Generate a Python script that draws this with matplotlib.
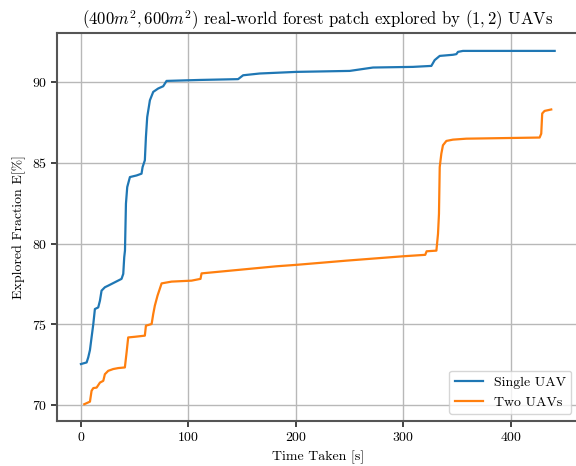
import matplotlib
matplotlib.use("Agg")
import matplotlib.pyplot as plt

plt.rcParams['font.family'] = 'serif'
plt.rcParams['font.serif'] = ['cmr10', 'DejaVu Serif']
plt.rcParams['mathtext.fontset'] = 'cm'
plt.rcParams['axes.formatter.use_mathtext'] = True
plt.rcParams['axes.unicode_minus'] = False

single_t = [0, 5.3, 6.8, 8.4, 9.9, 11.5, 13.0, 16.1, 17.7, 19.2, 22.3, 25.4, 31.6, 37.8,
            39.4, 40.3, 41.0, 41.9, 43.1, 45.6, 51.8, 56.4, 57.4, 59.5, 60.5, 61.7, 64.2,
            67.3, 71.9, 76.6, 79.7, 110.7, 146.3, 151.0, 166.5, 200.7, 250.2, 259.5,
            271.9, 309.1, 326.2, 329.3, 334.0, 346.3, 349.5, 351.0, 355.6, 441.0]
single_y = [72.53, 72.63, 72.94, 73.4, 74.18, 75.0, 75.94, 76.04, 76.46, 77.08, 77.29, 77.39,
            77.6, 77.81, 78.12, 79.15, 79.57, 82.47, 83.5, 84.12, 84.22, 84.33, 84.74, 85.16,
            86.6, 87.84, 88.88, 89.4, 89.61, 89.75, 90.08, 90.14, 90.19, 90.43, 90.54, 90.64,
            90.7, 90.79, 90.91, 90.95, 91.01, 91.37, 91.63, 91.7, 91.74, 91.88, 91.94, 91.94]

two_t = [3.1, 8.4, 9.9, 11.5, 14.6, 17.7, 20.8, 22.3, 25.4, 30.0, 34.7, 40.9, 42.5, 44.0,
         50.2, 59.5, 60.5, 65.8, 67.3, 68.8, 71.3, 75.1, 84.4, 103.0, 111.3, 112.3, 182.0,
         200.7, 247.2, 299.8, 320.5, 321.8, 330.9, 332.4, 333.3, 334.0, 335.5, 337.0, 340.2,
         346.3, 358.8, 427.0, 428.5, 429.4, 431.6, 437.8]
two_y = [70.04, 70.2, 70.87, 71.04, 71.07, 71.38, 71.49, 71.9, 72.11, 72.22, 72.28, 72.32,
         73.25, 74.18, 74.22, 74.29, 74.91, 75.01, 75.63, 76.15, 76.77, 77.53, 77.64, 77.7,
         77.81, 78.15, 78.59, 78.68, 78.94, 79.21, 79.3, 79.52, 79.56, 80.6, 81.84, 84.74,
         85.57, 86.09, 86.36, 86.44, 86.5, 86.57, 86.81, 88.06, 88.22, 88.31]

labels = ['Single UAV', 'Two UAVs']
title = r'$(400m^2, 600m^2)$ real-world forest patch explored by $(1, 2)$ UAVs'

fig = plt.figure(figsize=(5.76, 4.66), dpi=100)
ax = fig.add_axes([57.3 / 576, 45 / 466, 521 / 576, 388 / 466])

ax.plot(single_t, single_y, color='#1f77b4', lw=1.6, label=labels[0])
ax.plot(two_t, two_y, color='#ff7f0e', lw=1.6, label=labels[1])

ax.set_xlim(-22, 463)
ax.set_ylim(69.0, 93.05)
ax.set_xticks([0, 100, 200, 300, 400])
ax.set_yticks([70, 75, 80, 85, 90])
ax.grid(True, color='#b8b8b8', lw=1.0)
ax.set_axisbelow(True)
for s in ['left', 'bottom', 'top']:
    ax.spines[s].set_color('#555555')
    ax.spines[s].set_linewidth(1.5)
ax.spines['right'].set_visible(False)
ax.tick_params(labelsize=10, length=4, width=1.2, color='#222222')

ax.set_title(title, fontsize=12)
ax.set_xlabel('Time Taken [s]', fontsize=10)
ax.set_ylabel('Explored Fraction E[%]', fontsize=10)
ax.legend(loc='lower right', fontsize=10, framealpha=0.8)

fig.savefig('out.png', dpi=100)
